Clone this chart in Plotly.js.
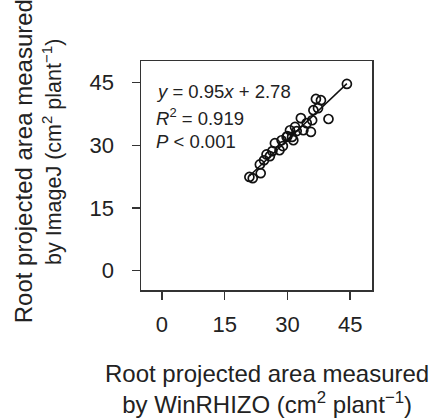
<!DOCTYPE html>
<html>
<head>
<meta charset="utf-8">
<script src="https://cdn.plot.ly/plotly-3.0.1.min.js"></script>
<style>html,body{margin:0;padding:0;background:#fff;}#chart{width:430px;height:419px;}</style>
</head>
<body>
<div id="chart"></div>
<script>
// WinRHIZO (x) vs ImageJ (y) root projected area, cm2 plant-1
const winRhizo = [44.2, 20.9, 21.7, 23.6, 23.4, 24.4, 25.0, 26.4, 28.1, 27.0, 28.6, 30.0, 30.6, 31.4, 32.2, 31.8, 33.2, 34.6, 35.6, 36.2, 36.8, 38.0, 39.8, 33.8, 28.9, 37.3, 35.9, 25.8, 31.1, 29.8];
const imageJ   = [44.7, 22.4, 22.1, 23.3, 25.4, 26.4, 27.8, 28.6, 28.8, 30.5, 31.2, 32.2, 33.6, 31.2, 33.4, 34.4, 36.5, 35.3, 33.2, 38.4, 41.1, 40.8, 36.3, 33.6, 29.8, 38.9, 36.0, 27.4, 32.0, 32.0];
const slope = 0.95;
const intercept = 2.78;
const tickVals = [0, 15, 30, 45];
const tickText = ['0', '15', '30', '45'];
const statLines = ['<i>y</i> = 0.95<i>x</i> + 2.78', '<i>R</i><sup>2</sup> = 0.919', '<i>P</i> &lt; 0.001'];
const xTitle = 'Root projected area measured<br>by WinRHIZO (cm<sup>2</sup> plant<sup>\u22121</sup>)';
const yTitleLine1 = 'Root projected area measured';
const yTitleLine2 = 'by ImageJ (cm<sup>2</sup> plant<sup>\u22121</sup>)';

const FONT = 'Liberation Sans, Arial, Helvetica, sans-serif';
const xMin = Math.min(...winRhizo), xMax = Math.max(...winRhizo);
const fitX = [xMin, xMax];
const fitY = fitX.map(v => slope * v + intercept);

const traces = [
  {x: fitX, y: fitY, mode: 'lines', line: {color: '#111', width: 1.5}, hoverinfo: 'skip'},
  {x: winRhizo, y: imageJ, mode: 'markers', marker: {symbol: 'circle-open', size: 9, color: '#111', line: {width: 1.7, color: '#111'}}}
];

const statY = [42.9, 36.8, 30.8];
const annotations = statLines.map((t, i) => ({
  text: t, xref: 'x', yref: 'y', x: -1.8, y: statY[i], xanchor: 'left', yanchor: 'middle',
  showarrow: false, font: {family: FONT, size: 18.5, color: '#222'}
}));
annotations.push({
  text: xTitle, xref: 'paper', yref: 'paper', x: 0.545, y: -0.432, xanchor: 'center', yanchor: 'middle',
  showarrow: false, font: {family: FONT, size: 24, color: '#222'}
});
annotations.push({
  text: yTitleLine1, xref: 'paper', yref: 'paper', x: -0.511, y: 0.562, xanchor: 'center', yanchor: 'middle',
  textangle: -90, showarrow: false, font: {family: FONT, size: 24, color: '#222'}
});
annotations.push({
  text: yTitleLine2, xref: 'paper', yref: 'paper', x: -0.385, y: 0.603, xanchor: 'center', yanchor: 'middle',
  textangle: -90, showarrow: false, font: {family: FONT, size: 21.5, color: '#222'}
});

const axisCommon = {
  showgrid: false, zeroline: false, showline: true, mirror: true, linecolor: '#333', linewidth: 1.5,
  ticks: 'outside', ticklen: 8, tickwidth: 1.5, tickcolor: '#333',
  tickvals: tickVals, ticktext: tickText, tickfont: {family: FONT, size: 22, color: '#222'}
};

const layout = {
  width: 430, height: 419,
  margin: {l: 141, r: 58, t: 61, b: 129},
  paper_bgcolor: '#fff', plot_bgcolor: '#fff',
  showlegend: false,
  xaxis: Object.assign({}, axisCommon, {range: [-5.0, 50.2], ticklabelstandoff: 6}),
  yaxis: Object.assign({}, axisCommon, {range: [-4.7, 50.2], ticklabelstandoff: 13}),
  annotations: annotations,
  font: {family: FONT}
};

Plotly.newPlot('chart', traces, layout, {staticPlot: true, displayModeBar: false});
</script>
</body>
</html>
